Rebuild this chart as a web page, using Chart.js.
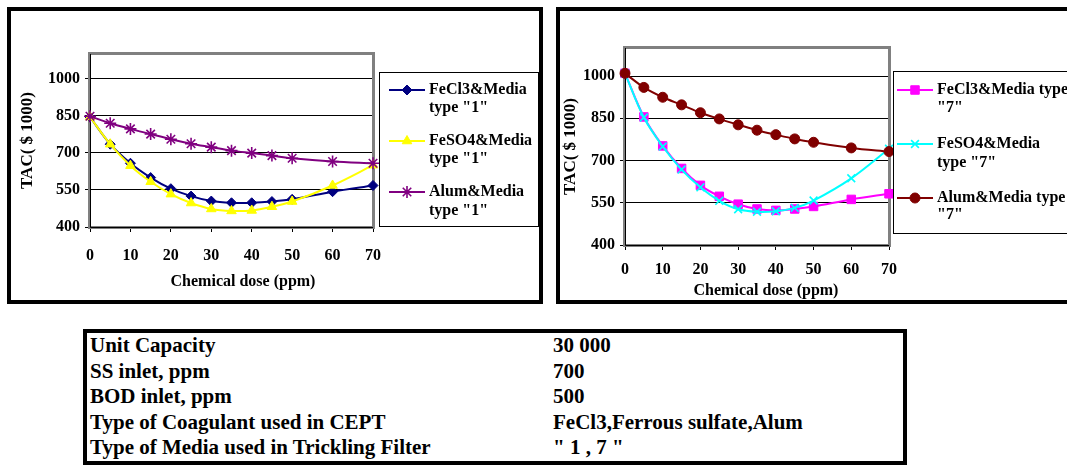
<!DOCTYPE html>
<html>
<head>
<meta charset="utf-8">
<script src="https://cdn.jsdelivr.net/npm/chart.js"></script>
<style>
  html, body { margin: 0; padding: 0; background: #fff; }
  body { width: 1067px; height: 466px; overflow: hidden; position: relative; font-family: "Liberation Serif", "Times New Roman", serif; }
  .box { position: absolute; border: 4px solid #000; box-sizing: border-box; background: #fff; }
  #box1 { left: 7px; top: 7px; width: 536px; height: 297px; }
  #box2 { left: 556px; top: 7px; width: 530px; height: 297px; }
  .box canvas { display: block; }
  #info { position: absolute; left: 83px; top: 329px; width: 824px; height: 136px; border: 4px solid #000; box-sizing: border-box; }
  #info table { border-collapse: collapse; font-weight: bold; font-size: 21px; }
  #info td { height: 25.6px; line-height: 25.6px; padding: 0; white-space: nowrap; }
  #info td:first-child { width: 463px; padding-left: 3px; }
</style>
</head>
<body>
<div class="box" id="box1"><canvas id="chart1" width="528" height="289"></canvas></div>
<div class="box" id="box2"><canvas id="chart2" width="522" height="289"></canvas></div>
<div id="info"><table id="infoTable"></table></div>

<script>
// dose values (ppm) on the x axis
const doses = [0, 5, 10, 15, 20, 25, 30, 35, 40, 45, 50, 60, 70];
const yTicks = [400, 550, 700, 850, 1000];

// TAC ($ 1000), media type "1"
const fecl3Type1 = [845, 735, 658, 600, 555, 525, 505, 498, 498, 503, 512, 543, 568];
const feso4Type1 = [845, 735, 648, 583, 533, 497, 473, 465, 467, 482, 503, 568, 650];
const alumType1 = [848, 820, 797, 776, 755, 737, 723, 709, 699, 689, 678, 665, 658];

// TAC ($ 1000), media type "7"
const fecl3Type7 = [1010, 855, 752, 672, 612, 573, 545, 528, 523, 528, 537, 562, 582];
const feso4Type7 = [1010, 853, 750, 668, 605, 557, 527, 518, 520, 532, 558, 637, 742];
const alumType7 = [1010, 960, 925, 898, 870, 848, 827, 808, 792, 777, 765, 745, 732];

const labels1 = [["FeCl3&Media", 'type "1"'], ["FeSO4&Media", 'type "1"'], ["Alum&Media", 'type "1"']];
const labels7 = [["FeCl3&Media type", '"7"'], ["FeSO4&Media", 'type "7"'], ["Alum&Media type", '"7"']];

const infoRows = [
  ["Unit Capacity", "30 000"],
  ["SS inlet, ppm", "700"],
  ["BOD inlet, ppm", "500"],
  ["Type of Coagulant used in CEPT", "FeCl3,Ferrous sulfate,Alum"],
  ["Type of Media used in Trickling Filter", '" 1 , 7 "']
];

const FONT = "'Liberation Serif', 'Times New Roman', serif";

// info table
const table = document.getElementById("infoTable");
infoRows.forEach(([k, v]) => {
  const tr = document.createElement("tr");
  const a = document.createElement("td");
  const b = document.createElement("td");
  a.textContent = k;
  b.textContent = v;
  tr.appendChild(a);
  tr.appendChild(b);
  table.appendChild(tr);
});

// gray plot frame, drawn under the data
const framePlugin = {
  id: "frame",
  beforeDatasetsDraw(chart) {
    const { ctx, chartArea: a } = chart;
    ctx.save();
    ctx.strokeStyle = "#808080";
    ctx.lineWidth = 3;
    ctx.strokeRect(a.left - 0.5, a.top - 0.5, a.right - a.left + 1, a.bottom - a.top + 1);
    ctx.strokeStyle = "#000";
    ctx.lineWidth = 1;
    ctx.beginPath();
    ctx.moveTo(a.left + 0.5, a.top);
    ctx.lineTo(a.left + 0.5, a.bottom + 0.5);
    ctx.lineTo(a.right, a.bottom + 0.5);
    ctx.stroke();
    ctx.restore();
  }
};

// boxed legend with two-line labels, plus the x title
const boxLegendPlugin = {
  id: "boxLegend",
  afterDraw(chart, args, opts) {
    const { ctx } = chart;
    ctx.save();
    ctx.fillStyle = "#fff";
    ctx.fillRect(opts.box[0], opts.box[1], opts.box[2], opts.box[3]);
    ctx.strokeStyle = "#000";
    ctx.lineWidth = 1;
    ctx.strokeRect(opts.box[0] + 0.5, opts.box[1] + 0.5, opts.box[2], opts.box[3]);
    ctx.font = "bold 16px " + FONT;
    ctx.textBaseline = "middle";
    ctx.textAlign = "left";
    chart.data.datasets.forEach((ds, i) => {
      const [y1, y2] = opts.rows[i];
      ctx.strokeStyle = ds.borderColor;
      ctx.lineWidth = 2;
      ctx.beginPath();
      ctx.moveTo(opts.line[0], y1);
      ctx.lineTo(opts.line[1], y1);
      ctx.stroke();
      ctx.fillStyle = ds.pointBackgroundColor;
      ctx.strokeStyle = ds.pointBorderColor;
      ctx.lineWidth = ds.pointBorderWidth;
      Chart.helpers.drawPoint(ctx, {
        pointStyle: ds.pointStyle,
        radius: ds.pointRadius,
        borderWidth: ds.pointBorderWidth,
        rotation: 0
      }, (opts.line[0] + opts.line[1]) / 2, y1);
      ctx.fillStyle = "#000";
      ctx.fillText(opts.labels[i][0], opts.textX, y1);
      ctx.fillText(opts.labels[i][1], opts.textX, y2);
    });
    // x axis title
    ctx.textAlign = "center";
    ctx.fillText(opts.xTitle[0], opts.xTitle[1], opts.xTitle[2]);
    ctx.restore();
  }
};

function series(label, data, color, style, radius, fill) {
  return {
    label: label,
    data: doses.map((d, i) => ({ x: d, y: data[i] })),
    borderColor: color,
    backgroundColor: color,
    borderWidth: 2,
    pointStyle: style,
    pointRadius: radius,
    pointBackgroundColor: fill ? color : "rgba(0,0,0,0)",
    pointBorderColor: color,
    pointBorderWidth: fill ? 1 : 1.6,
    tension: 0.33,
    clip: false
  };
}

function makeChart(id, datasets, lay) {
  return new Chart(document.getElementById(id), {
    type: "line",
    data: { datasets: datasets },
    options: {
      responsive: false,
      animation: false,
      events: [],
      layout: { padding: { left: 0, top: lay.top, right: lay.right, bottom: 0 } },
      plugins: {
        legend: { display: false },
        tooltip: { enabled: false },
        boxLegend: lay.legend
      },
      scales: {
        x: {
          type: "linear",
          min: 0,
          max: 70,
          afterFit: (s) => { s.height = lay.xHeight; },
          ticks: { stepSize: 10, color: "#000", padding: lay.xPad, maxRotation: 0, font: { family: FONT, size: 16, weight: "bold" } },
          grid: { drawOnChartArea: false, drawTicks: true, tickLength: 5, color: "#000" },
          border: { display: false }
        },
        y: {
          min: 400,
          max: 1100,
          afterFit: (s) => { s.width = lay.yWidth; },
          afterBuildTicks: (s) => { s.ticks = yTicks.map((v) => ({ value: v })); },
          ticks: { color: "#000", padding: 5, callback: (v) => String(v), font: { family: FONT, size: 16, weight: "bold" } },
          grid: { color: "#000", lineWidth: 1, tickLength: 5, drawTicks: true },
          border: { display: false },
          title: {
            display: true,
            text: "TAC( $ 1000)",
            color: "#000",
            padding: { top: lay.yTitlePad, bottom: 0 },
            font: { family: FONT, size: 17, weight: "bold" }
          }
        }
      }
    },
    plugins: [framePlugin, boxLegendPlugin]
  });
}

function drawAll() {
  const ds1 = [
    series(labels1[0].join(" "), fecl3Type1, "#000080", "rectRot", 5, true),
    series(labels1[1].join(" "), feso4Type1, "#FFFF00", "triangle", 5.5, true),
    series(labels1[2].join(" "), alumType1, "#800080", "star", 6, false)
  ];
  ds1.forEach((d, i) => { d.order = 3 - i; });

  const ds7 = [
    series(labels7[0].join(" "), fecl3Type7, "#FF00FF", "rect", 6, true),
    series(labels7[1].join(" "), feso4Type7, "#00FFFF", "crossRot", 5.5, false),
    series(labels7[2].join(" "), alumType7, "#800000", "circle", 5, true)
  ];
  ds7.forEach((d, i) => { d.order = 3 - i; });

  makeChart("chart1", ds1, {
    top: 43, right: 166, xHeight: 73, yWidth: 79, xPad: 14, yTitlePad: 6,
    legend: {
      box: [368, 61, 159, 154],
      line: [378, 414],
      textX: 418,
      rows: [[79, 97], [130, 148], [181, 200]],
      labels: labels1,
      xTitle: ["Chemical dose (ppm)", 232, 271]
    }
  });

  makeChart("chart2", ds7, {
    top: 37, right: 193, xHeight: 55, yWidth: 65, xPad: 10, yTitlePad: 0,
    legend: {
      box: [333, 60, 200, 162],
      line: [337, 373],
      textX: 377,
      rows: [[79, 97], [133, 152], [187, 204]],
      labels: labels7,
      xTitle: ["Chemical dose (ppm)", 206, 280]
    }
  });
}

// make sure the serif face is ready before the canvases draw text
document.fonts.load("bold 16px 'Liberation Serif'").then(drawAll, drawAll);
</script>
</body>
</html>
